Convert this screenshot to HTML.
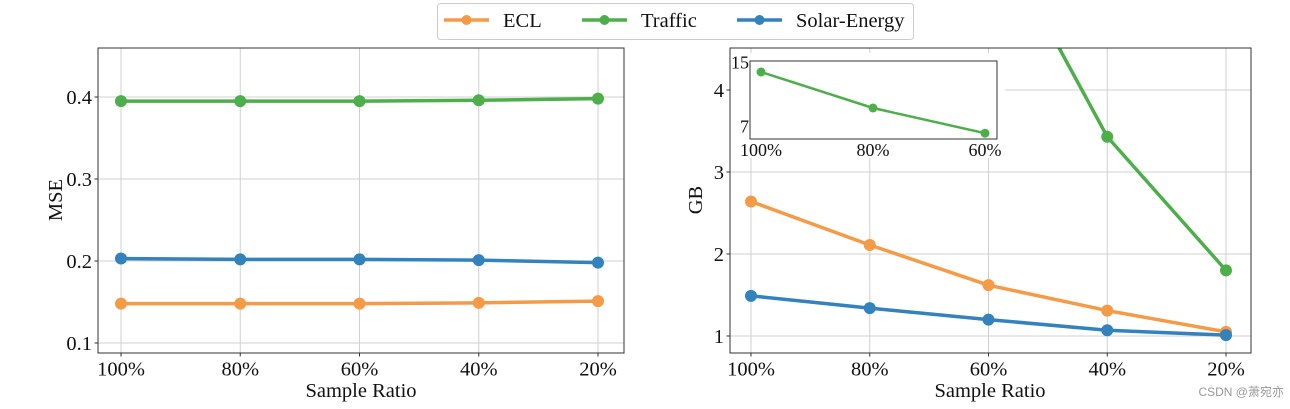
<!DOCTYPE html>
<html><head><meta charset="utf-8"><style>
body{margin:0;background:#fff;}
svg{display:block;font-family:"Liberation Serif",serif;}
</style></head><body>
<svg id="c" width="1290" height="409"></svg>
<script>
const categories=["100%","80%","60%","40%","20%"];
const mseECL=[0.148,0.148,0.148,0.149,0.151];
const mseTraffic=[0.395,0.395,0.395,0.396,0.398];
const mseSolar=[0.203,0.202,0.202,0.201,0.198];
const gbECL=[2.64,2.11,1.62,1.31,1.05];
const gbTraffic=[13.75,9.25,6.1,3.43,1.80];
const gbSolar=[1.49,1.34,1.20,1.07,1.01];
const mseTicks=[0.1,0.2,0.3,0.4];
const gbTicks=[1,2,3,4];
const insetTicks=[7,15];
const insetCats=["100%","80%","60%"];

const NS="http://www.w3.org/2000/svg";
const svg=document.getElementById('c');
function el(tag,attrs,parent){const e=document.createElementNS(NS,tag);for(const k in attrs)e.setAttribute(k,attrs[k]);(parent||svg).appendChild(e);return e;}
const C={ECL:"#f59a45",Traffic:"#4daf4a",Solar:"#3282bd"};
const FS=20.5;

function panel(o){
  const g=el('g',{});
  
  
  const X=i=>o.x0+(o.x1-o.x0)*i/(o.n-1);
  const Y=v=>o.yb-(v-o.v0)*o.k;
  const cid='clip'+o.name;
  const cp=el('clipPath',{id:cid},g);el('rect',{x:o.L,y:o.T,width:o.R-o.L,height:o.B-o.T},cp);
  if(o.grid){
  o.cats.forEach((c,i)=>{const l=el('line',{x1:X(i),x2:X(i),y1:o.T,y2:o.B,stroke:"#d0d0d0","stroke-width":1},g);
    });
  o.ticks.forEach(t=>{const l=el('line',{x1:o.L,x2:o.R,y1:Y(t),y2:Y(t),stroke:"#d0d0d0","stroke-width":1},g);
    });
  }
  if(o.bg){const b=el('rect',o.bg,g);}
  o.series.forEach(s=>{
    const sg=el('g',o.clip?{'clip-path':'url(#'+cid+')'}:{},g);
    
    el('polyline',{points:s.v.map((v,i)=>X(i)+','+Y(v)).join(' '),fill:'none',stroke:s.c,'stroke-width':o.lw,'stroke-linejoin':'round'},sg);
    s.v.forEach((v,i)=>{const p=el('circle',{cx:X(i),cy:Y(v),r:o.r,fill:s.c},sg);
      });
  });
  el('rect',{x:o.L,y:o.T,width:o.R-o.L,height:o.B-o.T,fill:'none',stroke:'#333','stroke-width':1},g);
  o.cats.forEach((c,i)=>{if(o.tk)el('line',{x1:X(i),x2:X(i),y1:o.B,y2:o.B+3.5,stroke:'#333'},g);
    const t=el('text',{x:X(i),y:o.B+o.fs+o.xo,'text-anchor':'middle','font-size':o.fs,fill:'#111'},g);t.textContent=c;
    });
  o.ticks.forEach(tv=>{if(o.tk)el('line',{x1:o.L-3.5,x2:o.L,y1:Y(tv),y2:Y(tv),stroke:'#333'},g);
    const t=el('text',{x:o.L-o.yo,y:Y(tv)+o.fs*0.35,'text-anchor':'end','font-size':o.fs,fill:'#111'},g);t.textContent=o.fmt(tv);
    });
  return {g,X,Y};
}

panel({name:'mse-panel',L:98,R:624,T:48,B:353,x0:121,x1:598,n:5,yb:343,v0:0.1,k:820,cats:categories,ticks:mseTicks,fmt:v=>v.toFixed(1),fs:FS,lw:3.5,r:6,grid:true,clip:true,tk:true,xo:2,yo:6,
  series:[{n:'ecl',v:mseECL,c:C.ECL},{n:'traffic',v:mseTraffic,c:C.Traffic},{n:'solar',v:mseSolar,c:C.Solar}]});
panel({name:'gb-panel',L:730,R:1251,T:48,B:353,x0:751,x1:1226,n:5,yb:336,v0:1,k:82,cats:categories,ticks:gbTicks,fmt:v=>String(v),fs:FS,lw:3.5,r:6,grid:true,clip:true,tk:true,xo:2,yo:6,
  bg:{x:731,y:53,width:274,height:105,fill:'#fff'},
  series:[{n:'ecl',v:gbECL,c:C.ECL},{n:'traffic',v:gbTraffic,c:C.Traffic},{n:'solar',v:gbSolar,c:C.Solar}]});

function txt(s,a,name){const t=el('text',a);t.textContent=s;return t;}
txt('Sample Ratio',{x:361,y:397,'text-anchor':'middle','font-size':FS,fill:'#111'},'x-axis-title-left');
txt('Sample Ratio',{x:990,y:397,'text-anchor':'middle','font-size':FS,fill:'#111'},'x-axis-title-right');
txt('MSE',{x:62,y:200,'text-anchor':'middle','font-size':FS,fill:'#111',transform:'rotate(-90 62 200)'},'y-axis-title-left');
txt('GB',{x:702,y:200,'text-anchor':'middle','font-size':FS,fill:'#111',transform:'rotate(-90 702 200)'},'y-axis-title-right');

panel({name:'inset',L:750,R:997,T:61,B:139,x0:761,x1:985,n:3,yb:126,v0:7,k:8,cats:insetCats,ticks:insetTicks,fmt:v=>String(v),fs:18,lw:2.5,r:4.5,grid:false,clip:false,tk:false,xo:-1,yo:1,
  series:[{n:'traffic',v:gbTraffic.slice(0,3),c:C.Traffic}]});

const lg=el('g',{});
el('rect',{x:437.5,y:3.5,width:476,height:36,rx:3,fill:'#fff',stroke:'#ccc'},lg);
[['ECL',C.ECL,444,503],['Traffic',C.Traffic,582,641],['Solar-Energy',C.Solar,737,796]].forEach(([n,c,x,tx])=>{
  const e=el('g',{},lg);
  el('line',{x1:x,x2:x+45,y1:20,y2:20,stroke:c,'stroke-width':3.5},e);
  el('circle',{cx:x+22.5,cy:20,r:5,fill:c},e);
  const t=el('text',{x:tx,y:27,'font-size':FS,fill:'#111'},e);t.textContent=n;
});
txt('CSDN @萧宛亦',{x:1284,y:396,'text-anchor':'end','font-size':12,fill:'#999','font-family':'"Liberation Sans","Noto Sans CJK SC",sans-serif'},'watermark');
</script>
</body></html>
